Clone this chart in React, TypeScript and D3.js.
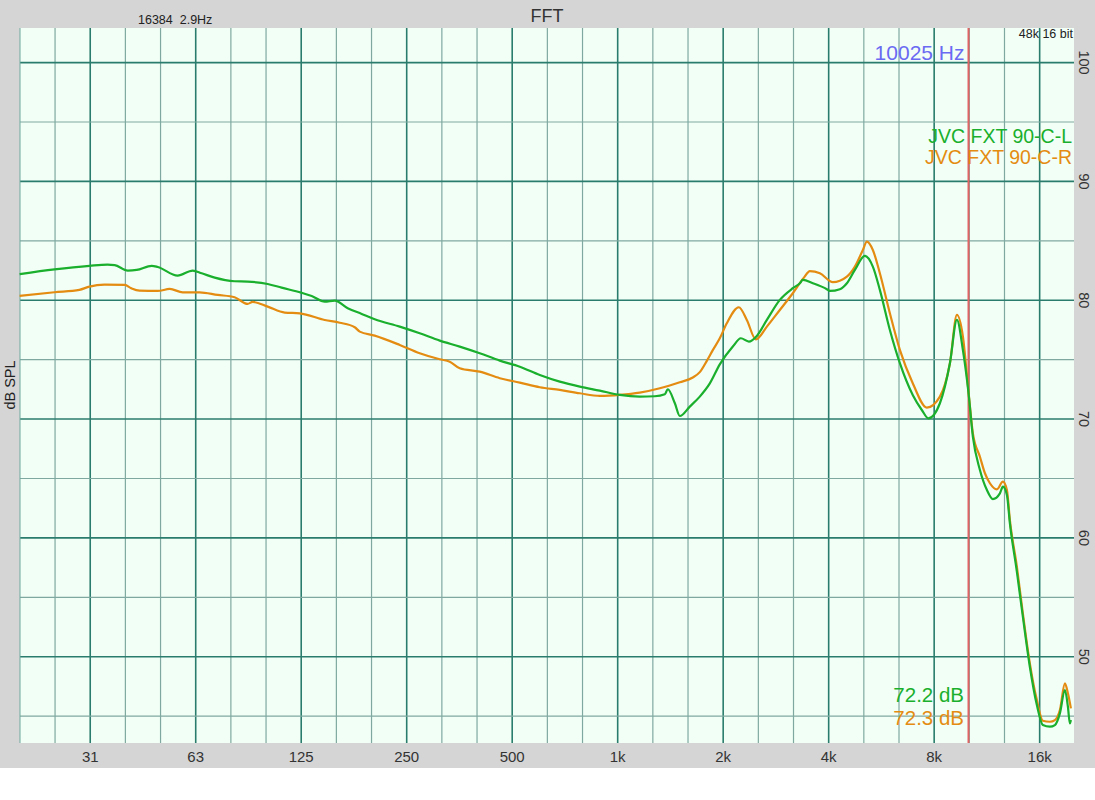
import {default as React, useEffect, useRef} from "react";
import * as d3 from "d3";

// left channel (green)
const freqL = [19.65, 24.7, 31.1, 35.0, 36.7, 40.0, 42.4, 46.8, 48.7, 55.5, 61.3, 65.0, 70.8, 80.7, 87.9, 100.3, 109.9, 125,
    133.9, 145.9, 155.8, 169.7, 186, 202.6, 238.8, 272.3, 310.6, 354.2, 404, 460.8, 525.6, 599.4, 683.5, 779.6, 889, 1014,
    1156, 1276, 1363, 1390, 1456, 1504, 1606, 1715, 1832, 1956, 2131, 2246, 2367, 2495, 2665, 2902, 3160, 3310, 3376,
    3606, 3952, 4031, 4305, 4508, 4752, 5074, 5347, 5599, 5980, 6386, 6955, 7400, 7700, 8307, 8872, 9290, 9663, 10025,
    10318, 10806, 11314, 11768, 12322, 12567, 12902, 13158, 13775, 14328, 15000, 15709, 16341, 17113, 17684, 18275, 18886,
    19264, 19517, 19646];
const dbL = [82.2, 82.6, 82.9, 83.0, 82.95, 82.5, 82.55, 82.9, 82.8, 82.07, 82.5, 82.27, 81.9, 81.6, 81.57, 81.37, 81.06, 80.64,
    80.36, 79.88, 79.97, 79.33, 78.85, 78.4, 77.78, 77.22, 76.6, 76.1, 75.54, 74.92, 74.41, 73.71, 73.15, 72.73, 72.39, 72.03,
    71.89, 71.92, 72.09, 72.51, 71.33, 70.26, 71.05, 71.89, 73.0, 74.6, 76.1, 76.8, 76.52, 77.0, 78.34, 80.03, 81.01, 81.43, 81.71,
    81.43, 80.93, 80.78, 80.93, 81.43, 82.55, 83.73, 82.83, 80.87, 77.5, 74.7, 72.0, 70.7, 70.06, 71.33, 74.7, 78.34, 75.8, 72.2,
    68.5, 65.72, 64.03, 63.27, 63.75, 64.31, 63.61, 61.23, 57.16, 53.37, 49.16, 45.93, 44.25, 44.11, 44.25, 45.23, 47.2,
    45.79, 44.39, 44.67];

// right channel (orange)
const freqR = [19.65, 24.7, 29.1, 31.1, 34.3, 39.2, 41.0, 43.2, 48.7, 52.7, 57.4, 64.1, 72.2, 80.7, 87.9, 90.9, 100.3, 112.2,
    123.8, 145.9, 161, 177.7, 183.6, 202.6, 238.8, 272.3, 310.6, 331.7, 354.2, 404, 460.8, 525.6, 599.4, 683.5, 779.6, 889,
    1014, 1156, 1319, 1504, 1638, 1715, 1796, 1868, 1956, 2048, 2217, 2336, 2479, 2665, 2902, 3160, 3400, 3535, 3775, 4111, 4508, 4752,
    5008, 5141, 5347, 5599, 5980, 6386, 6955, 7626, 8307, 8872, 9290, 9663, 10025, 10318, 10806, 11167, 11539, 12081, 12567,
    12902, 13158, 13775, 14328, 15000, 15709, 16341, 17113, 17684, 18275, 18886, 19264, 19646];
const dbR = [80.36, 80.67, 80.87, 81.15, 81.31, 81.29, 81.0, 80.81, 80.78, 80.95, 80.67, 80.67, 80.45, 80.25, 79.69, 79.86, 79.46, 78.96,
    78.9, 78.34, 78.11, 77.73, 77.36, 77.02, 76.24, 75.54, 75.03, 74.83, 74.28, 73.99, 73.44, 73.07, 72.68, 72.45, 72.17, 71.95,
    72.03, 72.22, 72.59, 73.1, 73.5, 73.95, 74.9, 75.8, 76.8, 78.06, 79.41, 78.34, 76.71, 77.78, 79.18, 80.59, 81.9, 82.45, 82.27, 81.52, 81.99, 82.83,
    84.23, 84.93, 84.23, 82.27, 78.9, 75.82, 73.0, 70.96, 71.89, 74.7, 78.76, 76.94, 72.3, 68.8, 66.83, 65.44, 64.6, 64.09, 64.73,
    64.03, 61.5, 57.58, 53.65, 49.44, 46.35, 44.61, 44.53, 44.67, 45.51, 47.76, 46.92, 45.65];

const seriesNames = ["JVC FXT 90-C-L", "JVC FXT 90-C-R"];
const seriesColors = ["#1aaf2c", "#e48c12"];
const cursorReadout = ["72.2 dB", "72.3 dB"];
const cursorFreq = 10025;

const octaveTicks = [31.25, 62.5, 125, 250, 500, 1000, 2000, 4000, 8000, 16000];
const octaveLabels = ["31", "63", "125", "250", "500", "1k", "2k", "4k", "8k", "16k"];
const dbTicks = [50, 60, 70, 80, 90, 100];

const width = 1095;
const height = 800;
const plot = {left: 20, right: 1074, top: 28, bottom: 743};
const font = "'Liberation Sans', Arial, Helvetica, sans-serif";

export default function App() {

    const containerRef = useRef<SVGSVGElement>(null);

    useEffect(
        () => {
            draw();
        },
        []
    )

    function draw() {
        const svg = d3.select(containerRef.current);
        svg.selectAll("*").remove();

        const xScale = d3.scaleLog()
            .domain([19.7, 20050])
            .range([plot.left, plot.right]);

        const yScale = d3.scaleLinear()
            .domain([42.74, 102.91])
            .range([plot.bottom, plot.top]);

        svg.append("rect")
            .attr("x", 0).attr("y", 0)
            .attr("width", width).attr("height", 768)
            .attr("fill", "#d5d5d5");

        svg.append("rect")
            .attr("x", plot.left).attr("y", plot.top)
            .attr("width", plot.right - plot.left).attr("height", plot.bottom - plot.top)
            .attr("fill", "#f2fff7");

        // third-octave verticals, octaves darker
        const isOctave = (f: number) => Math.abs(Math.log2(f / 31.25) % 1) < 0.01;
        const thirds = d3.range(-2, 29).map(k => 31.25 * Math.pow(2, k / 3))
            .filter(f => xScale(f) > plot.left + 2 && xScale(f) < plot.right - 1);
        svg.append("g")
            .selectAll("line")
            .data(thirds)
            .join("line")
            .attr("x1", d => xScale(d)).attr("x2", d => xScale(d))
            .attr("y1", plot.top).attr("y2", plot.bottom)
            .attr("stroke", d => isOctave(d) ? "#2a7d6c" : "#7fa9a0")
            .attr("stroke-width", d => isOctave(d) ? 1.6 : 1.2);

        const hLines = d3.range(45, 101, 5);
        svg.append("g")
            .selectAll("line")
            .data(hLines)
            .join("line")
            .attr("x1", plot.left).attr("x2", plot.right)
            .attr("y1", d => yScale(d)).attr("y2", d => yScale(d))
            .attr("stroke", d => d % 10 === 0 ? "#2a7d6c" : "#7fa9a0")
            .attr("stroke-width", d => d % 10 === 0 ? 1.6 : 1.2);

        svg.append("line")
            .attr("x1", plot.left).attr("x2", plot.left)
            .attr("y1", plot.top).attr("y2", plot.bottom)
            .attr("stroke", "#6fa89c").attr("stroke-width", 1);

        // cursor
        svg.append("line")
            .attr("x1", xScale(cursorFreq)).attr("x2", xScale(cursorFreq))
            .attr("y1", plot.top).attr("y2", plot.bottom)
            .attr("stroke", "#e06464").attr("stroke-width", 2);

        const line = d3.line<[number, number]>()
            .x(d => xScale(d[0]))
            .y(d => yScale(d[1]))
            .curve(d3.curveMonotoneX);

        const series: [number, number][][] = [
            freqL.map((f, i) => [f, dbL[i]]),
            freqR.map((f, i) => [f, dbR[i]])
        ];

        [1, 0].forEach(s => {
            svg.append("path")
                .datum(series[s])
                .attr("fill", "none")
                .attr("stroke", seriesColors[s])
                .attr("stroke-width", 2.2)
                .attr("stroke-linejoin", "round")
                .attr("d", line);
        });

        // x tick labels
        svg.append("g")
            .selectAll("text")
            .data(octaveTicks)
            .join("text")
            .attr("x", d => xScale(d))
            .attr("y", 762)
            .attr("text-anchor", "middle")
            .attr("font-family", font)
            .attr("font-size", 15)
            .attr("fill", "#333")
            .text((d, i) => octaveLabels[i]);

        // y tick labels, rotated on the right
        svg.append("g")
            .selectAll("text")
            .data(dbTicks)
            .join("text")
            .attr("transform", d => `translate(1079,${yScale(d)}) rotate(90)`)
            .attr("text-anchor", "middle")
            .attr("font-family", font)
            .attr("font-size", 14.5)
            .attr("fill", "#333")
            .text(d => d);

        svg.append("text")
            .attr("transform", `translate(15,385) rotate(-90)`)
            .attr("text-anchor", "middle")
            .attr("font-family", font)
            .attr("font-size", 14.5)
            .attr("fill", "#222")
            .text("dB SPL");

        svg.append("text")
            .attr("x", 547).attr("y", 22)
            .attr("text-anchor", "middle")
            .attr("font-family", font)
            .attr("font-size", 18)
            .attr("fill", "#333")
            .text("FFT");

        svg.append("text")
            .attr("x", 138).attr("y", 24)
            .attr("font-family", font)
            .attr("font-size", 12.5)
            .attr("fill", "#222")
            .text("16384\u00a0\u00a02.9Hz");

        svg.append("text")
            .attr("x", 1073).attr("y", 38)
            .attr("text-anchor", "end")
            .attr("font-family", font)
            .attr("font-size", 12.5)
            .attr("fill", "#222")
            .text("48k 16 bit");

        svg.append("text")
            .attr("x", xScale(cursorFreq) - 4).attr("y", 60)
            .attr("text-anchor", "end")
            .attr("font-family", font)
            .attr("font-size", 21)
            .attr("fill", "#6a6af2")
            .text(`${cursorFreq} Hz`);

        seriesNames.forEach((name, i) => {
            svg.append("text")
                .attr("x", 1072).attr("y", 143 + i * 21)
                .attr("text-anchor", "end")
                .attr("font-family", font)
                .attr("font-size", 19.5)
                .attr("fill", seriesColors[i])
                .text(name);
        });

        cursorReadout.forEach((txt, i) => {
            svg.append("text")
                .attr("x", 964).attr("y", 702 + i * 23)
                .attr("text-anchor", "end")
                .attr("font-family", font)
                .attr("font-size", 20.5)
                .attr("fill", seriesColors[i])
                .text(txt);
        });
    }

    return (
        <svg
            width={width}
            height={height}
            style={{position: "absolute", left: 0, top: 0, backgroundColor: "white"}}
            ref={containerRef}
        />
    );

}
